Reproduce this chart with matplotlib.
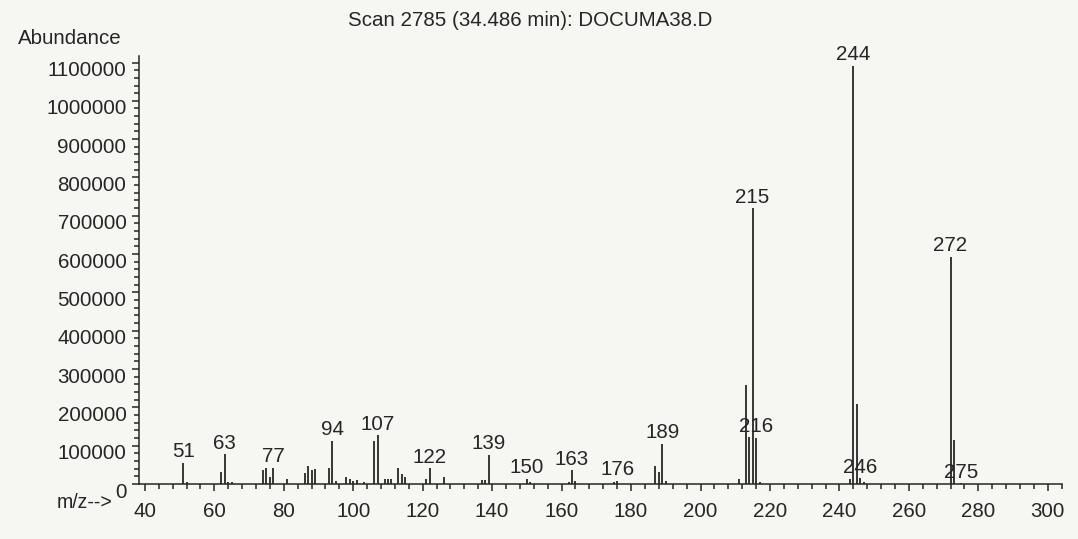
import matplotlib.pyplot as plt
import matplotlib.transforms as mtransforms
from matplotlib.ticker import MultipleLocator

# m/z values and abundances
mz = [51, 52, 62, 63, 64, 65, 74, 75, 76, 77, 81,
      86, 87, 88, 89, 93, 94, 95, 98, 99, 100, 101, 103,
      106, 107, 109, 110, 111, 113, 114, 115, 121, 122, 126,
      137, 138, 139, 150, 151, 162, 163, 164, 175, 176,
      187, 188, 189, 190, 211, 213, 214, 215, 216, 217,
      243, 244, 245, 246, 247, 272, 273, 275]
abundance = [56000, 4000, 32000, 78000, 6000, 5000, 37000, 43000, 19000, 42000, 13000,
             28000, 46000, 37000, 40000, 41000, 113000, 7000, 17000, 14000, 9000, 11000, 5000,
             112000, 127000, 12000, 12000, 12000, 43000, 27000, 19000, 12000, 41000, 17000,
             11000, 11000, 76000, 13000, 6000, 6000, 36000, 8000, 5000, 9000,
             46000, 31000, 105000, 8000, 14000, 258000, 123000, 720000, 120000, 4000,
             12000, 1091000, 208000, 15000, 5000, 593000, 114000, 2000]
labeled = [51, 63, 77, 94, 107, 122, 139, 150, 163, 176, 189, 215, 216, 244, 246, 272, 275]

title = "Scan 2785 (34.486 min): DOCUMA38.D"

bg = "#f6f7f3"
ink = "#262626"
fs = 14.8

plt.rcParams["font.family"] = ["Liberation Sans", "DejaVu Sans"]
plt.rcParams["text.color"] = ink
plt.rcParams["xtick.color"] = ink
plt.rcParams["ytick.color"] = ink

fig = plt.figure(figsize=(10.78, 5.39), dpi=100, facecolor=bg)
ax = fig.add_axes([139 / 1078, 55 / 539, 923 / 1078, 428 / 539])
ax.set_facecolor(bg)

ax.vlines(mz, 0, abundance, colors=ink, linewidth=1.3)

lookup = dict(zip(mz, abundance))
for m in labeled:
    ax.annotate(str(m), (m, lookup[m]), xytext=(0, 4), textcoords="offset points",
                ha="center", va="baseline", fontsize=fs)

ax.set_xlim(38.3, 304.1)
ax.set_ylim(0, 1117000)

for side in ["top", "right"]:
    ax.spines[side].set_visible(False)
for side in ["left", "bottom"]:
    ax.spines[side].set_linewidth(1.1)
    ax.spines[side].set_color(ink)

ax.xaxis.set_major_locator(MultipleLocator(20))
ax.xaxis.set_minor_locator(MultipleLocator(4))
ax.yaxis.set_major_locator(MultipleLocator(100000))
ax.yaxis.set_minor_locator(MultipleLocator(20000))
ax.set_xticks(range(40, 301, 20))
ax.tick_params(axis="both", which="major", direction="out", length=5, width=1.1, labelsize=fs)
ax.tick_params(axis="both", which="minor", direction="out", length=3.5, width=1.1)
ax.tick_params(axis="x", pad=8)
ax.tick_params(axis="y", pad=4)
ax.set_yticklabels([f"{int(v)}" for v in ax.get_yticks()])

shift = mtransforms.ScaledTranslation(0, -0.06, fig.dpi_scale_trans)
for lbl in ax.get_yticklabels():
    lbl.set_transform(lbl.get_transform() + shift)

fig.text(530 / 1078, 1 - 20 / 539, title, ha="center", va="center", fontsize=fs)
fig.text(70 / 1078, 1 - 38 / 539, "Abundance", ha="center", va="center", fontsize=fs)
fig.text(113 / 1078, 1 - 503 / 539, "m/z-->", ha="right", va="center", fontsize=fs * 0.95)

fig.savefig("out.png", dpi=100, facecolor=bg)
